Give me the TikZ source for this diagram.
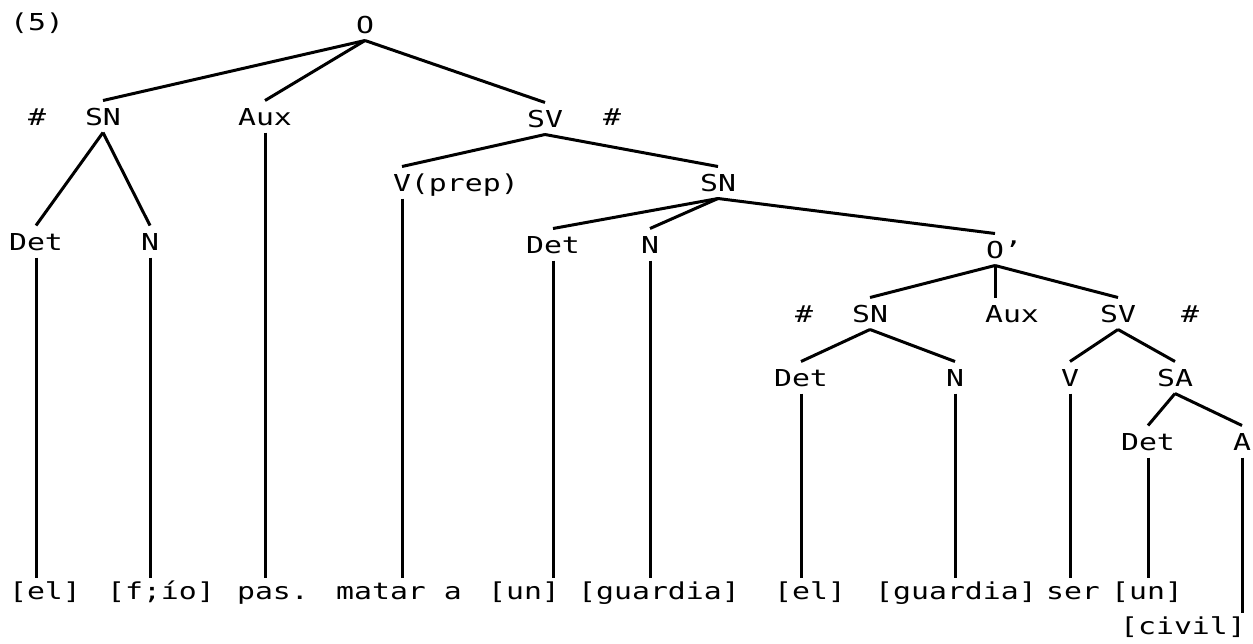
\documentclass[tikz,border=0pt]{standalone}
\usepackage{fontspec}
\newfontfamily\dotfont[FakeStretch=1.28]{DejaVu Sans Mono}
\newcommand\treefont{\dotfont\fontsize{23.3pt}{28pt}\selectfont}

\begin{document}
\begin{tikzpicture}[x=1pt,y=-1pt,line width=3pt,
    lab/.style={font=\treefont, inner xsep=0pt, inner ysep=6pt,
      text height=17pt, text depth=0pt, anchor=base},
    word/.style={lab, inner ysep=3pt}]
    \useasboundingbox (0,0) rectangle (1253,643);

    \node[lab] (ex) at (37,30) {(5)};

    % tree labels, placed on their baselines
    \node[lab] (n0) at (365,33) {O};
    \node[lab] (n1) at (103,125) {SN};
    \node[lab] (n2) at (265,125) {Aux};
    \node[lab] (n3) at (545,127) {SV};
    \node[lab] (n4) at (402,191) {V\rlap{(prep)}};
    \node[lab] (n5) at (718,191) {SN};
    \node[lab] (n6) at (36,250) {Det};
    \node[lab] (n7) at (150,250) {N};
    \node[lab] (n8) at (553,253) {Det};
    \node[lab] (n9) at (650,253) {N};
    \node[lab] (n10) at (995,258) {O\rlap{’}};
    \node[lab] (n11) at (870,322) {SN};
    \node[lab] (n12) at (1012,322) {Aux};
    \node[lab] (n13) at (1118,322) {SV};
    \node[lab] (n14) at (801,386) {Det};
    \node[lab] (n15) at (955,386) {N};
    \node[lab] (n16) at (1070,386) {V};
    \node[lab] (n17) at (1175,386) {SA};
    \node[lab] (n18) at (1148,450) {Det};
    \node[lab] (n19) at (1242,450) {A};

    % boundary marks
    \node[lab] (h1) at (37,125) {\#};
    \node[lab] (h2) at (612,125) {\#};
    \node[lab] (h3) at (804,322) {\#};
    \node[lab] (h4) at (1190,322) {\#};

    % terminal string
    \node[word] (w1) at (45,599) {[el]};
    \node[word] (w2) at (161,599) {[f;ío]};
    \node[word] (w3) at (273,599) {pas.};
    \node[word] (w4) at (399,599) {matar a};
    \node[word] (w5) at (524,599) {[un]};
    \node[word] (w6) at (659,599) {[guardia]};
    \node[word] (w7) at (810,599) {[el]};
    \node[word] (w8) at (956,599) {[guardia]};
    \node[word] (w9) at (1073,599) {ser};
    \node[word] (w10) at (1147,599) {[un]};
    \node[word] (w11) at (1183,634) {[civil]};

    \draw (n0.south) edge (n1.north) edge (n2.north) edge (n3.north);
    \draw (n1.south) edge (n6.north) edge (n7.north);
    \draw (n3.south) edge (n4.north) edge (n5.north);
    \draw (n5.south) edge (n8.north) edge (n9.north) edge (n10.north);
    \draw (n10.south) edge (n11.north) edge (n10.south |- n12.north) edge (n13.north);
    \draw (n11.south) edge (n14.north) edge (n15.north);
    \draw (n13.south) edge (n16.north) edge (n17.north);
    \draw (n17.south) edge (n18.north) edge (n19.north);

    % straight drops to the words
    \foreach \t/\w in {n6/w1, n7/w2, n2/w3, n4/w4, n8/w5, n9/w6,
                       n14/w7, n15/w8, n16/w9, n18/w10, n19/w11}
        \draw (\t.south) -- (\t.south |- \w.north);
\end{tikzpicture}
\end{document}
